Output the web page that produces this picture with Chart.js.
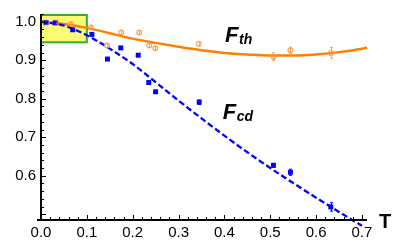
<!DOCTYPE html>
<html><head><meta charset="utf-8">
<script src="https://cdn.jsdelivr.net/npm/chart.js@4/dist/chart.umd.min.js"></script>
<style>html,body{margin:0;padding:0;background:#fff;}#wrap{width:403px;height:248px;position:relative;}</style>
</head><body><div id="wrap"><canvas id="c"></canvas></div>
<script>
// Measured points F_th (orange) with error half-widths
const thT   = [0.011,0.033,0.065,0.109,0.144,0.175,0.214,0.236,0.249,0.344,0.507,0.544,0.632];
const thF   = [0.998,0.998,0.994,0.985,0.938,0.972,0.972,0.938,0.931,0.943,0.909,0.926,0.919];
const thErr = [0.004,0.004,0.004,0.005,0.005,0.005,0.005,0.005,0.005,0.005,0.010,0.008,0.014];
// Measured points F_cd (blue)
const cdT   = [0.011,0.031,0.069,0.111,0.145,0.174,0.212,0.235,0.250,0.345,0.507,0.544,0.632];
const cdF   = [0.998,0.997,0.979,0.967,0.903,0.932,0.913,0.842,0.818,0.791,0.627,0.609,0.519];
const cdErr = [0.003,0.003,0.003,0.003,0.003,0.003,0.003,0.003,0.003,0.006,0.005,0.008,0.011];
// Theory curves
const thCurveT = [0,0.05,0.1,0.15,0.2,0.25,0.3,0.35,0.4,0.45,0.5,0.55,0.6,0.65,0.7,0.711];
const thCurveF = [1.0,0.994,0.984,0.970,0.956,0.945,0.935,0.926,0.919,0.915,0.912,0.912,0.915,0.921,0.930,0.933];
const cdCurveT = [0,0.05,0.1,0.15,0.2,0.25,0.3,0.35,0.4,0.45,0.5,0.55,0.6,0.65,0.7];
const cdCurveF = [1.0,0.990,0.965,0.930,0.890,0.843,0.795,0.749,0.704,0.661,0.620,0.581,0.543,0.506,0.470];
// Ticks
const xTicks = [0,0.1,0.2,0.3,0.4,0.5,0.6,0.7];
const yTicks = [0.6,0.7,0.8,0.9,1.0];
// Highlight box region
const boxT = [0,0.1];
const boxF = [0.9465,1.0174];

const FONT = "'Liberation Sans', Arial, sans-serif";
const ORANGE = '#ff8000';
const ORANGE_PT = 'rgba(255,150,60,0.85)';
const BLUE = '#0000ff';

const pts = (xs, ys) => xs.map((x,i)=>({x, y: ys[i]}));

const deco = {
  id: 'deco',
  beforeDatasetsDraw(chart) {
    const {ctx, scales:{x, y}} = chart;
    ctx.save();
    const x0 = x.getPixelForValue(boxT[0]), x1 = x.getPixelForValue(boxT[1]);
    const y0 = y.getPixelForValue(boxF[1]), y1 = y.getPixelForValue(boxF[0]);
    ctx.fillStyle = '#fbfb73';
    ctx.fillRect(x0, y0, x1-x0, y1-y0);
    ctx.strokeStyle = '#3aa83a';
    ctx.lineWidth = 2;
    ctx.strokeRect(x0, y0, x1-x0, y1-y0);
    ctx.restore();
  },
  afterDatasetsDraw(chart) {
    const {ctx, scales:{x, y}, chartArea:a} = chart;
    ctx.save();
    // error bars
    const drawErr = (ts, fs, es, color) => {
      ctx.strokeStyle = color; ctx.lineWidth = 1;
      ts.forEach((t,i)=>{
        const px = Math.round(x.getPixelForValue(t))+0.5;
        const pt = y.getPixelForValue(fs[i]+es[i]);
        const pb = y.getPixelForValue(fs[i]-es[i]);
        ctx.beginPath();
        ctx.moveTo(px, pt); ctx.lineTo(px, pb);
        ctx.moveTo(px-1.5, pt); ctx.lineTo(px+1.5, pt);
        ctx.moveTo(px-1.5, pb); ctx.lineTo(px+1.5, pb);
        ctx.stroke();
      });
    };
    drawErr(thT, thF, thErr, ORANGE_PT);
    drawErr(cdT, cdF, cdErr, BLUE);
    // axes
    ctx.strokeStyle = '#000';
    ctx.lineWidth = 2;
    const ax = a.left, ay = a.bottom;
    ctx.beginPath();
    ctx.moveTo(ax-4, ay); ctx.lineTo(a.right, ay);
    ctx.moveTo(ax, ay+1); ctx.lineTo(ax, a.top);
    ctx.stroke();
    ctx.lineWidth = 1;
    ctx.beginPath();
    for (let k = 0; k <= 35; k++) {
      const v = k*0.02;
      const px = Math.round(x.getPixelForValue(v)) + 0.5;
      const len = (k % 5 === 0) ? 5 : 3;
      ctx.moveTo(px, ay); ctx.lineTo(px, ay-len);
    }
    for (let k = 25; k <= 51; k++) {
      const v = k*0.02;
      const py = Math.round(y.getPixelForValue(v)) + 0.5;
      if (py < a.top) continue;
      const len = (k % 5 === 0) ? 5 : 3;
      ctx.moveTo(ax, py); ctx.lineTo(ax+len, py);
    }
    ctx.stroke();
    // T axis label
    ctx.fillStyle = '#000';
    ctx.font = 'bold 20px ' + FONT;
    ctx.textBaseline = 'alphabetic';
    ctx.textAlign = 'left';
    ctx.fillText('T', 379, 228);
    // curve labels
    const lab = (main, sub, t, f) => {
      const px = x.getPixelForValue(t), py = y.getPixelForValue(f);
      ctx.font = 'italic bold 22px ' + FONT;
      ctx.fillText(main, px, py);
      const w = ctx.measureText(main).width;
      ctx.font = 'italic bold 14px ' + FONT;
      ctx.fillText(sub, px + w + 0.5, py + 2);
    };
    lab('F', 'th', 0.4015, 0.947);
    lab('F', 'cd', 0.3965, 0.747);
    ctx.restore();
  }
};

new Chart(document.getElementById('c'), {
  type: 'scatter',
  data: {
    datasets: [
      { data: pts(thCurveT, thCurveF), showLine: true, borderColor: ORANGE, borderWidth: 2.5,
        pointRadius: 0, tension: 0.4, cubicInterpolationMode: 'monotone', order: 3 },
      { data: pts(cdCurveT, cdCurveF), showLine: true, borderColor: BLUE, borderWidth: 2.3,
        borderDash: [6,3], pointRadius: 0, tension: 0.4, cubicInterpolationMode: 'monotone', order: 2 },
      { data: pts(thT, thF), pointStyle: 'circle', pointRadius: 2.4, borderColor: ORANGE_PT,
        backgroundColor: 'rgba(255,255,255,0)', borderWidth: 1.2, order: 1 },
      { data: pts(cdT, cdF), pointStyle: 'rect', pointRadius: 3.5, borderColor: BLUE,
        backgroundColor: BLUE, borderWidth: 0, order: 0 }
    ]
  },
  options: {
    responsive: true, maintainAspectRatio: false, animation: false,
    clip: false,
    layout: { padding: { top: 14, right: 36, left: 0, bottom: 0 } },
    plugins: { legend: { display: false }, tooltip: { enabled: false } },
    scales: {
      x: {
        type: 'linear', min: 0, max: 0.711,
        afterBuildTicks: s => { s.ticks = xTicks.map(v => ({value: v})); },
        afterFit: s => { s.height = 28; },
        grid: { display: false, drawTicks: false },
        border: { display: false },
        ticks: { padding: 4, color: '#000', font: { family: FONT, size: 15 },
                 callback: v => Number(v).toFixed(1), maxRotation: 0, autoSkip: false }
      },
      y: {
        type: 'linear', min: 0.485, max: 1.02,
        afterBuildTicks: s => { s.ticks = yTicks.map(v => ({value: v})); },
        afterFit: s => { s.width = 41; },
        grid: { display: false, drawTicks: false },
        border: { display: false },
        ticks: { padding: 5, color: '#000', font: { family: FONT, size: 15 },
                 callback: v => Number(v).toFixed(1), autoSkip: false }
      }
    }
  },
  plugins: [deco]
});
</script>
</body></html>
